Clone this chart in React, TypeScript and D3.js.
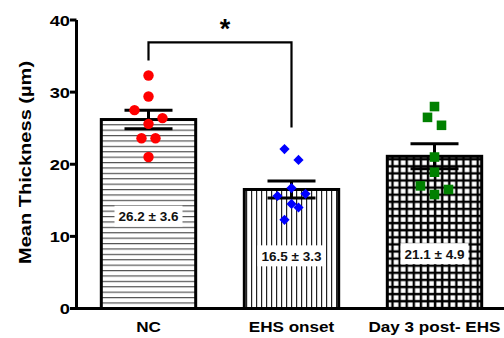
import * as d3 from 'd3'

const categories = ['NC', 'EHS onset', 'Day 3 post- EHS']
const means = [26.2, 16.5, 21.1]
const sds = [3.6, 3.3, 4.9]
const ncPoints = [32.3, 29.4, 27.5, 26.4, 25.6, 23.6, 23.6, 21.0]
const onsetPoints = [22.1, 20.6, 16.7, 15.6, 15.9, 14.5, 14.0, 12.3]
const day3Points = [28.0, 26.5, 25.4, 21.0, 18.9, 17.0, 16.5, 15.8]
const yTicks = [0, 10, 20, 30, 40]

// column-scatter slots (which side-by-side column each dot sits in)
const ncSlots = [0, 0, -2, 2, 0, -1, 1, 0]
const onsetSlots = [-1, 1, 0, -2, 2, 0, 1, -1]
const day3Slots = [0, -1, 1, 0, 0, -2, 2, 0]

const W = 504
const H = 338
const FONT = '"Liberation Sans", Arial, sans-serif'
const labelAt = [12.8, 7.3, 7.6] // value at which the mean ± SD box sits
const SLOT = 7
const WIDE = 1.18 // the original's lettering is a bit wider than Arial

export default function App() {
  const x = d3.scaleBand<string>()
    .domain(categories)
    .range([77, 506])
    .paddingInner(0.34)
    .paddingOuter(0.17)
  const y = d3.scaleLinear().domain([0, 40]).range([308.5, 20])
  const bw = x.bandwidth()

  const groups = [
    { pts: ncPoints, slots: ncSlots, color: '#ff0000', shape: 'circle', fill: 'url(#hlines)' },
    { pts: onsetPoints, slots: onsetSlots, color: '#0000ff', shape: 'diamond', fill: 'url(#vlines)' },
    { pts: day3Points, slots: day3Slots, color: '#008000', shape: 'square', fill: 'url(#grid)' },
  ]

  const sq = d3.symbol().type(d3.symbolSquare)
  const cx = (c: string) => (x(c) as number) + bw / 2

  const left = cx(categories[0])
  const right = cx(categories[1])
  const brTop = y(36.9)

  return (
    <svg width={W} height={H} style={{ position: 'absolute', left: 0, top: 0, background: '#fff' }} fontFamily={FONT}>
      <defs>
        <pattern id="hlines" patternUnits="userSpaceOnUse" width={6} height={5.4}>
          <rect width={6} height={5.4} fill="#fff" />
          <line x1={0} x2={6} y1={0.6} y2={0.6} stroke="#444" strokeWidth={1.1} />
        </pattern>
        <pattern id="vlines" patternUnits="userSpaceOnUse" width={5} height={6} x={1}>
          <rect width={5} height={6} fill="#fff" />
          <line x1={0.6} x2={0.6} y1={0} y2={6} stroke="#222" strokeWidth={1.2} />
        </pattern>
        <pattern id="grid" patternUnits="userSpaceOnUse" width={7.1} height={7.1} x={1} y={2}>
          <rect width={7.1} height={7.1} fill="#000" />
          <rect x={2.2} y={2.2} width={4.7} height={4.7} fill="#fff" />
        </pattern>
      </defs>

      {/* bars */}
      {categories.map((c, i) => (
        <rect key={c} x={x(c)} y={y(means[i])} width={bw} height={y(0) - y(means[i])}
          fill={groups[i].fill} stroke="#000" strokeWidth={3} />
      ))}

      {/* mean ± SD labels */}
      {categories.map((c, i) => {
        const t = `${means[i].toFixed(1)} ± ${sds[i].toFixed(1)}`
        return (
          <g key={c}>
            <rect x={cx(c) - 34} y={y(labelAt[i]) - 10.5} width={68} height={21} fill="#fff" />
            <text x={cx(c)} y={y(labelAt[i]) + 5} textAnchor="middle" fontSize={13.5} fontWeight="bold" fill="#111">{t}</text>
          </g>
        )
      })}

      {/* SEM error bars */}
      {categories.map((c, i) => {
        const sem = sds[i] / Math.sqrt(groups[i].pts.length)
        const m = cx(c)
        return (
          <g key={c} stroke="#000" strokeWidth={3}>
            <line x1={m} x2={m} y1={y(means[i] + sem)} y2={y(means[i] - sem)} />
            <line x1={m - 24} x2={m + 24} y1={y(means[i] + sem)} y2={y(means[i] + sem)} />
            <line x1={m - 24} x2={m + 24} y1={y(means[i] - sem)} y2={y(means[i] - sem)} />
          </g>
        )
      })}

      {/* points */}
      {categories.map((c, i) => {
        const g = groups[i]
        return g.pts.map((v, j) => {
          const px = cx(c) + g.slots[j] * SLOT
          const py = y(v)
          if (g.shape === 'circle') return <circle key={c + j} cx={px} cy={py} r={5.2} fill={g.color} />
          const size = g.shape === 'square' ? 92 : 52
          const rot = g.shape === 'diamond' ? 45 : 0
          return <path key={c + j} d={sq.size(size)() as string} fill={g.color}
            transform={`translate(${px},${py}) rotate(${rot})`} />
        })
      })}

      {/* significance bracket */}
      <path d={`M${left},${y(34.4)}V${brTop}H${right}V${y(25.1)}`} fill="none" stroke="#000" strokeWidth={2.2} />
      <text x={(left + right) / 2 + 5} y={38} textAnchor="middle" fontSize={27} fontWeight="bold">*</text>

      {/* axes */}
      <g stroke="#000" strokeWidth={3}>
        <line x1={76.5} x2={76.5} y1={y(40)} y2={y(0) + 1.5} />
        <line x1={75} x2={W} y1={y(0)} y2={y(0)} />
        {yTicks.map(t => <line key={t} x1={70} x2={76.5} y1={y(t)} y2={y(t)} />)}
      </g>
      {yTicks.map(t => (
        <text key={t} transform={`translate(70,${y(t) + 5.5}) scale(${WIDE},1)`} textAnchor="end"
          fontSize={15.5} fontWeight="bold">{t}</text>
      ))}
      {categories.map(c => (
        <text key={c} transform={`translate(${cx(c)},332) scale(${WIDE},1)`} textAnchor="middle"
          fontSize={14.5} fontWeight="bold">{c}</text>
      ))}
      <text transform={`translate(31,162.5) rotate(-90) scale(${WIDE},1)`} textAnchor="middle"
        fontSize={17} fontWeight="bold">Mean Thickness (µm)</text>
    </svg>
  )
}
